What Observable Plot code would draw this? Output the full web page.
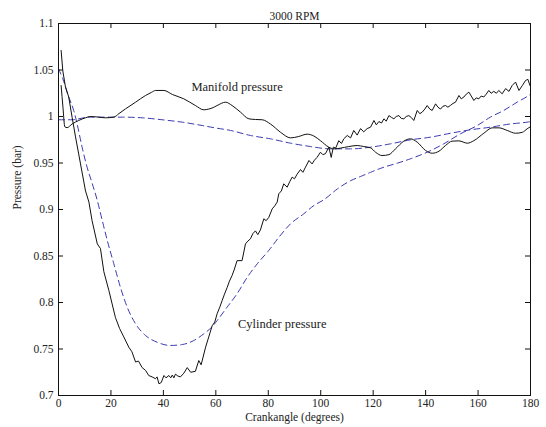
<!DOCTYPE html>
<html>
<head>
<meta charset="utf-8">
<script src="https://cdn.jsdelivr.net/npm/d3@7"></script>
<script src="https://cdn.jsdelivr.net/npm/@observablehq/plot@0.6"></script>
<style>
  html, body { margin: 0; padding: 0; background: #fff; }
  #chart svg { display: block; }
</style>
</head>
<body>
<div id="chart"></div>
<script>
// ---- data ----
const title = "3000 RPM";
const xLabel = "Crankangle (degrees)";
const yLabel = "Pressure (bar)";
const xTicks = [0, 20, 40, 60, 80, 100, 120, 140, 160, 180];
const yTicks = [0.7, 0.75, 0.8, 0.85, 0.9, 0.95, 1.0, 1.05, 1.1];

// measured cylinder pressure (solid, noisy) [deg, bar]
const cylMeasured = [[1.0,1.071],[1.65,1.049],[2.67,1.0315],[3.9,1.021],[5.2,0.999],[6.5,0.978],[8.4,0.949],[10.3,0.920],[11.6,0.908],[12.8,0.888],[14.8,0.863],[16,0.858],[17.3,0.833],[19.2,0.813],[21.7,0.784],[23.3,0.772],[24.9,0.763],[26.8,0.752],[28.0,0.747],[29.4,0.736],[30.5,0.737],[31.9,0.730],[33.2,0.727],[34.4,0.7215],[35.7,0.720],[37,0.718],[37.6,0.720],[38.3,0.7126],[39.2,0.714],[40.2,0.7215],[41.0,0.719],[42.1,0.7215],[42.8,0.719],[43.4,0.722],[44.0,0.719],[44.6,0.723],[45.5,0.721],[46.5,0.720],[47.8,0.724],[49.1,0.730],[50.4,0.725],[52.2,0.726],[53.5,0.7376],[54.4,0.733],[56.1,0.752],[57.3,0.763],[58.6,0.775],[59.6,0.779],[60.5,0.788],[61.5,0.795],[62.4,0.802],[63.3,0.809],[64.3,0.816],[65.2,0.823],[66.2,0.829],[67.1,0.836],[68.1,0.845],[70,0.845],[71.3,0.863],[72.2,0.866],[73.2,0.8685],[74.1,0.874],[75.1,0.877],[76.0,0.873],[77,0.878],[78.3,0.890],[79.2,0.888],[80.2,0.8915],[81.5,0.9007],[82.5,0.904],[83.4,0.908],[84,0.9169],[85.0,0.920],[85.9,0.9276],[87.2,0.924],[88.2,0.930],[89.1,0.9348],[90.0,0.933],[91,0.938],[92.3,0.943],[93.2,0.940],[94.2,0.9455],[95.5,0.9527],[96.7,0.949],[97.6,0.953],[98.6,0.956],[99.9,0.9616],[100.8,0.959],[101.8,0.960],[103.1,0.967],[104,0.956],[104.8,0.967],[105.7,0.966],[106.9,0.974],[107.9,0.971],[108.8,0.976],[110.1,0.9796],[111.4,0.977],[112.6,0.985],[113.9,0.980],[115.2,0.987],[116.4,0.9835],[117.7,0.987],[119,0.9885],[120.3,0.9957],[121.2,0.991],[122.2,0.9946],[123.2,0.993],[124.1,0.9975],[125.0,0.995],[126,1.001],[127.0,0.999],[127.9,0.9975],[128.8,1.000],[129.8,1.001],[130.7,0.998],[131.7,0.9975],[132.6,1.000],[133.6,1.001],[134.5,0.999],[135.5,0.9957],[136.8,1.0065],[137.8,1.003],[138.7,1.0047],[139.7,1.008],[140.6,1.0118],[141.6,1.008],[142.5,1.0065],[143.8,1.0136],[144.7,1.010],[145.7,1.008],[146.6,1.011],[147.6,1.0118],[148.5,1.010],[149.5,1.012],[150.4,1.014],[151.4,1.0154],[152.7,1.0226],[153.6,1.019],[154.6,1.021],[155.5,1.024],[156.5,1.0262],[157.4,1.022],[158.4,1.0172],[159.3,1.020],[160.3,1.019],[161.2,1.022],[162.2,1.021],[163.1,1.024],[164.1,1.028],[165.0,1.025],[166,1.027],[167.0,1.025],[167.9,1.028],[169.2,1.0244],[170.5,1.030],[171.8,1.027],[173,1.0333],[174.3,1.037],[175.6,1.028],[176.9,1.0333],[178.1,1.0387],[179,1.040],[179.8,1.0333]];

// measured manifold pressure (solid, smooth)
const manMeasured = [[1.0,1.0333],[1.7,1.01],[2.4,0.989],[3.3,0.988],[5.2,0.992],[7.7,0.9957],[10.3,0.9986],[12.2,1.000],[15.4,0.9993],[17.9,0.9986],[21.1,0.9993],[23,1.003],[25.6,1.0083],[29.4,1.0154],[33.2,1.0226],[35.5,1.026],[37,1.028],[40.2,1.028],[43.4,1.0237],[47.8,1.019],[52.2,1.0118],[55.4,1.0072],[57.3,1.008],[58.5,1.009],[60.5,1.0118],[63.7,1.0154],[66.2,1.0118],[69.4,1.0047],[72.6,0.9975],[75.1,0.9968],[77.7,0.9965],[80.8,0.992],[84.7,0.983],[88.5,0.977],[91.6,0.9785],[94.8,0.981],[97.4,0.979],[99.9,0.974],[103.1,0.967],[105,0.9652],[107.6,0.966],[110.7,0.9677],[113.9,0.9688],[116.4,0.9677],[119,0.9663],[120.9,0.9616],[123.4,0.958],[126,0.959],[128.5,0.9652],[131.7,0.9735],[134.2,0.976],[136.8,0.9724],[140,0.9634],[142.5,0.9605],[145.1,0.9627],[147.6,0.9688],[150.1,0.9735],[152.7,0.9738],[155.9,0.9713],[158.4,0.974],[162.2,0.982],[165.4,0.9878],[168,0.9878],[171.1,0.985],[174.3,0.982],[176.9,0.983],[178.7,0.9867],[180,0.989]];

// simulated cylinder pressure (dashed blue)
const cylSimulated = [[0,1.0513],[1.65,1.0405],[3.9,1.021],[5.8,1.0065],[7.1,0.992],[9,0.967],[10.9,0.9455],[12.9,0.9276],[14.8,0.9097],[16.7,0.888],[18.6,0.8667],[21.1,0.8416],[23.6,0.8165],[26.2,0.795],[29.4,0.777],[33.2,0.7645],[37.6,0.7573],[42.7,0.7538],[47.2,0.7548],[51.6,0.7591],[55.4,0.7663],[58.6,0.774],[60.5,0.7806],[64.3,0.795],[68.1,0.8094],[72,0.8272],[75.8,0.8416],[80.2,0.856],[84,0.870],[88.5,0.8846],[93.5,0.8953],[97.4,0.9043],[101.2,0.9105],[106.3,0.922],[111.4,0.931],[115.2,0.9355],[119,0.940],[124.1,0.9455],[129.2,0.9498],[134.2,0.9545],[140.6,0.9616],[146.9,0.9706],[153.3,0.9814],[159.7,0.9903],[164.7,0.9993],[169.8,1.0065],[174.9,1.0154],[178.7,1.0215],[180,1.024]];

// simulated manifold pressure (dashed blue)
const manSimulated = [[0,0.9965],[5.2,0.9965],[11.6,0.9993],[17.9,0.9993],[24.3,0.9993],[31.9,0.9986],[39.5,0.9965],[47.2,0.9939],[54.8,0.9903],[59.6,0.9878],[65.6,0.985],[73.2,0.9796],[80.8,0.976],[88.5,0.9713],[96.1,0.9677],[103.7,0.9652],[111.4,0.9652],[119,0.967],[126.6,0.9706],[134.2,0.9749],[141.9,0.9778],[149.5,0.982],[157.1,0.9857],[164.7,0.9885],[172.4,0.992],[178.7,0.9939],[180,0.9945]];

const annotations = [
  {x: 68.1, y: 1.0315, text: "Manifold pressure"},
  {x: 85.3, y: 0.777, text: "Cylinder pressure"}
];

// ---- chart ----
const W = 546, H = 427;
const mL = 58, mR = 16, mT = 23, mB = 32;
const innerW = W - mL - mR, innerH = H - mT - mB;
const tickLen = 5;
const blue = "#3a3ab4";
const font = "Liberation Serif, Times New Roman, serif";
const fmt = d => String(+d.toFixed(2));

const chart = Plot.plot({
  width: W, height: H,
  marginLeft: mL, marginRight: mR, marginTop: mT, marginBottom: mB,
  style: {fontFamily: font, fontSize: "11.5px", color: "#222", background: "#fff"},
  x: {domain: [0, 180]},
  y: {domain: [0.7, 1.1]},
  marks: [
    Plot.line(manSimulated, {x: d => d[0], y: d => d[1], stroke: blue, strokeWidth: 1, strokeDasharray: "6,4", curve: "monotone-x"}),
    Plot.line(cylSimulated, {x: d => d[0], y: d => d[1], stroke: blue, strokeWidth: 1, strokeDasharray: "6,4", curve: "monotone-x"}),
    Plot.line(manMeasured, {x: d => d[0], y: d => d[1], stroke: "#111", strokeWidth: 1, curve: "monotone-x"}),
    Plot.line(cylMeasured, {x: d => d[0], y: d => d[1], stroke: "#111", strokeWidth: 1}),
    Plot.text(annotations, {x: "x", y: "y", text: "text", fontSize: 12.5, fill: "#222"}),
    // inward ticks on all four sides
    Plot.tickX(xTicks, {x: d => d, insetTop: innerH - tickLen, stroke: "#111"}),
    Plot.tickX(xTicks, {x: d => d, insetBottom: innerH - tickLen, stroke: "#111"}),
    Plot.tickY(yTicks, {y: d => d, insetRight: innerW - tickLen, stroke: "#111"}),
    Plot.tickY(yTicks, {y: d => d, insetLeft: innerW - tickLen, stroke: "#111"}),
    Plot.axisX({ticks: xTicks, tickSize: 0, tickPadding: 3, tickFormat: fmt, label: null, fontSize: 11.5}),
    Plot.axisY({ticks: yTicks, tickSize: 0, tickPadding: 5, tickFormat: fmt, label: null, fontSize: 11.5}),
    Plot.frame({stroke: "#111", strokeWidth: 1}),
    Plot.text([title], {frameAnchor: "top", dy: -12, fontSize: 11.5, fill: "#222"}),
    Plot.text([xLabel], {frameAnchor: "bottom", dy: 25.5, fontSize: 11.5, fill: "#222"}),
    Plot.text([yLabel], {frameAnchor: "left", dx: -41, rotate: -90, fontSize: 11.5, fill: "#222"})
  ]
});
document.getElementById("chart").appendChild(chart);
</script>
</body>
</html>
